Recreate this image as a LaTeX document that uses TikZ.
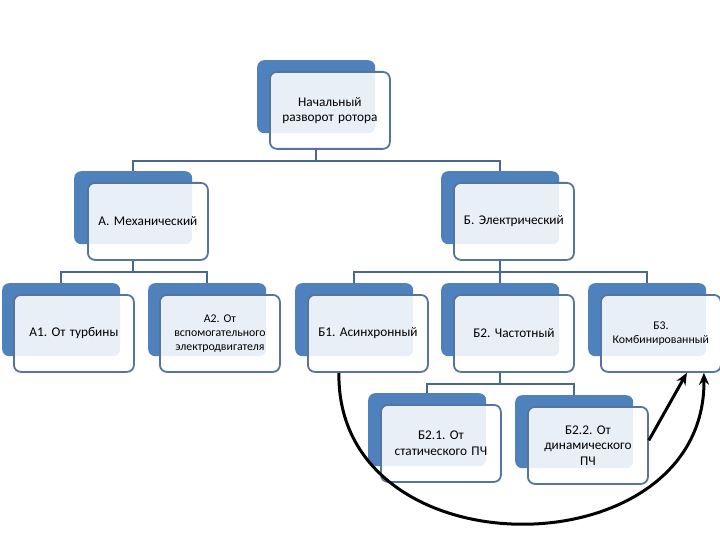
\documentclass[tikz,border=0pt]{standalone}
\usepackage{fontspec}
\setmainfont{Carlito}
\usetikzlibrary{arrows.meta,calc}
\definecolor{accent}{HTML}{4F81BD}
\definecolor{edge}{HTML}{56759E}
\definecolor{linkc}{HTML}{4A678F}
\tikzset{
  bluebox/.style={fill=accent, draw=none, rounded corners=7pt, minimum width=118pt, minimum height=73pt, inner sep=0pt, anchor=north west},
  frontbox/.style={fill=white, fill opacity=0.88, text opacity=1, draw=edge, line width=1.8pt, rounded corners=7pt, minimum width=120pt, minimum height=77pt, text width=114pt, align=center, inner sep=0pt, anchor=north west, font=\fontsize{13.3}{15.5}\selectfont},
  smalltext/.style={font=\fontsize{11.8}{14}\selectfont},
  link/.style={draw=linkc, line width=1.6pt},
  bigarrow/.style={draw=black, line width=3pt, -{Stealth[length=12pt,width=10pt]}}
}
\frenchspacing
\begin{document}
\begin{tikzpicture}[x=1pt,y=-1pt]
\fill[white] (0,0) rectangle (720,540);
\useasboundingbox (0,0) rectangle (720,540);
% blue back boxes
\node[bluebox] (topb) at (257,60) {};
\node[bluebox] (Ab) at (74,171) {};
\node[bluebox] (Bb) at (441,171) {};
\node[bluebox] (A1b) at (2,283) {};
\node[bluebox] (A2b) at (148,283) {};
\node[bluebox] (B1b) at (295,283) {};
\node[bluebox] (B2b) at (441,283) {};
\node[bluebox] (B3b) at (588,283) {};
\node[bluebox] (B21b) at (368,393) {};
\node[bluebox] (B22b) at (515,395) {};

% front boxes
\node[frontbox] (top) at (269,71) {Начальный\\разворот ротора};
\node[frontbox] (A) at (87,182) {А. Механический};
\node[frontbox] (B) at (453,182) {Б. Электрический};
\node[frontbox] (A1) at (13,294) {А1. От турбины};
\node[frontbox,smalltext] (A2) at (159,294) {А2. От\\вспомогательного\\электродвигателя};
\node[frontbox] (B1) at (307,294) {Б1. Асинхронный};
\node[frontbox] (B2) at (453,294) {Б2. Частотный};
\node[frontbox,smalltext] (B3) at (600,294) {Б3.\\Комбинированный};
\node[frontbox] (B21) at (380,404) {Б2.1. От\\статического ПЧ};
\node[frontbox] (B22) at (527,406) {Б2.2. От\\динамического\\ПЧ};

% connectors
\draw[link] (topb |- top.south) -- ++(0,11) coordinate (h1);
\draw[link] (Ab.north) |- (h1) -| (Bb.north);
\draw[link] (Ab |- A.south) -- ++(0,11) coordinate (h2);
\draw[link] (A1b.north) |- (h2) -| (A2b.north);
\draw[link] (Bb |- B.south) -- ++(0,11) coordinate (h3);
\draw[link] (B1b.north) |- (h3) -| (B3b.north);
\draw[link] (B2b.north) -- (h3);
\draw[link] (B2b |- B2.south) -- ++(0,11) coordinate (h4);
\draw[link] (B21b.north) |- (h4) -| (B22b.north);

% arrows
\draw[bigarrow] ([xshift=-29pt]B1.south) .. controls (336,575) and (706,572) .. ([xshift=43pt]B3.south);
\draw[bigarrow] ([yshift=5pt]B22.east) -- ([xshift=26pt]B3.south);
\end{tikzpicture}
\end{document}
